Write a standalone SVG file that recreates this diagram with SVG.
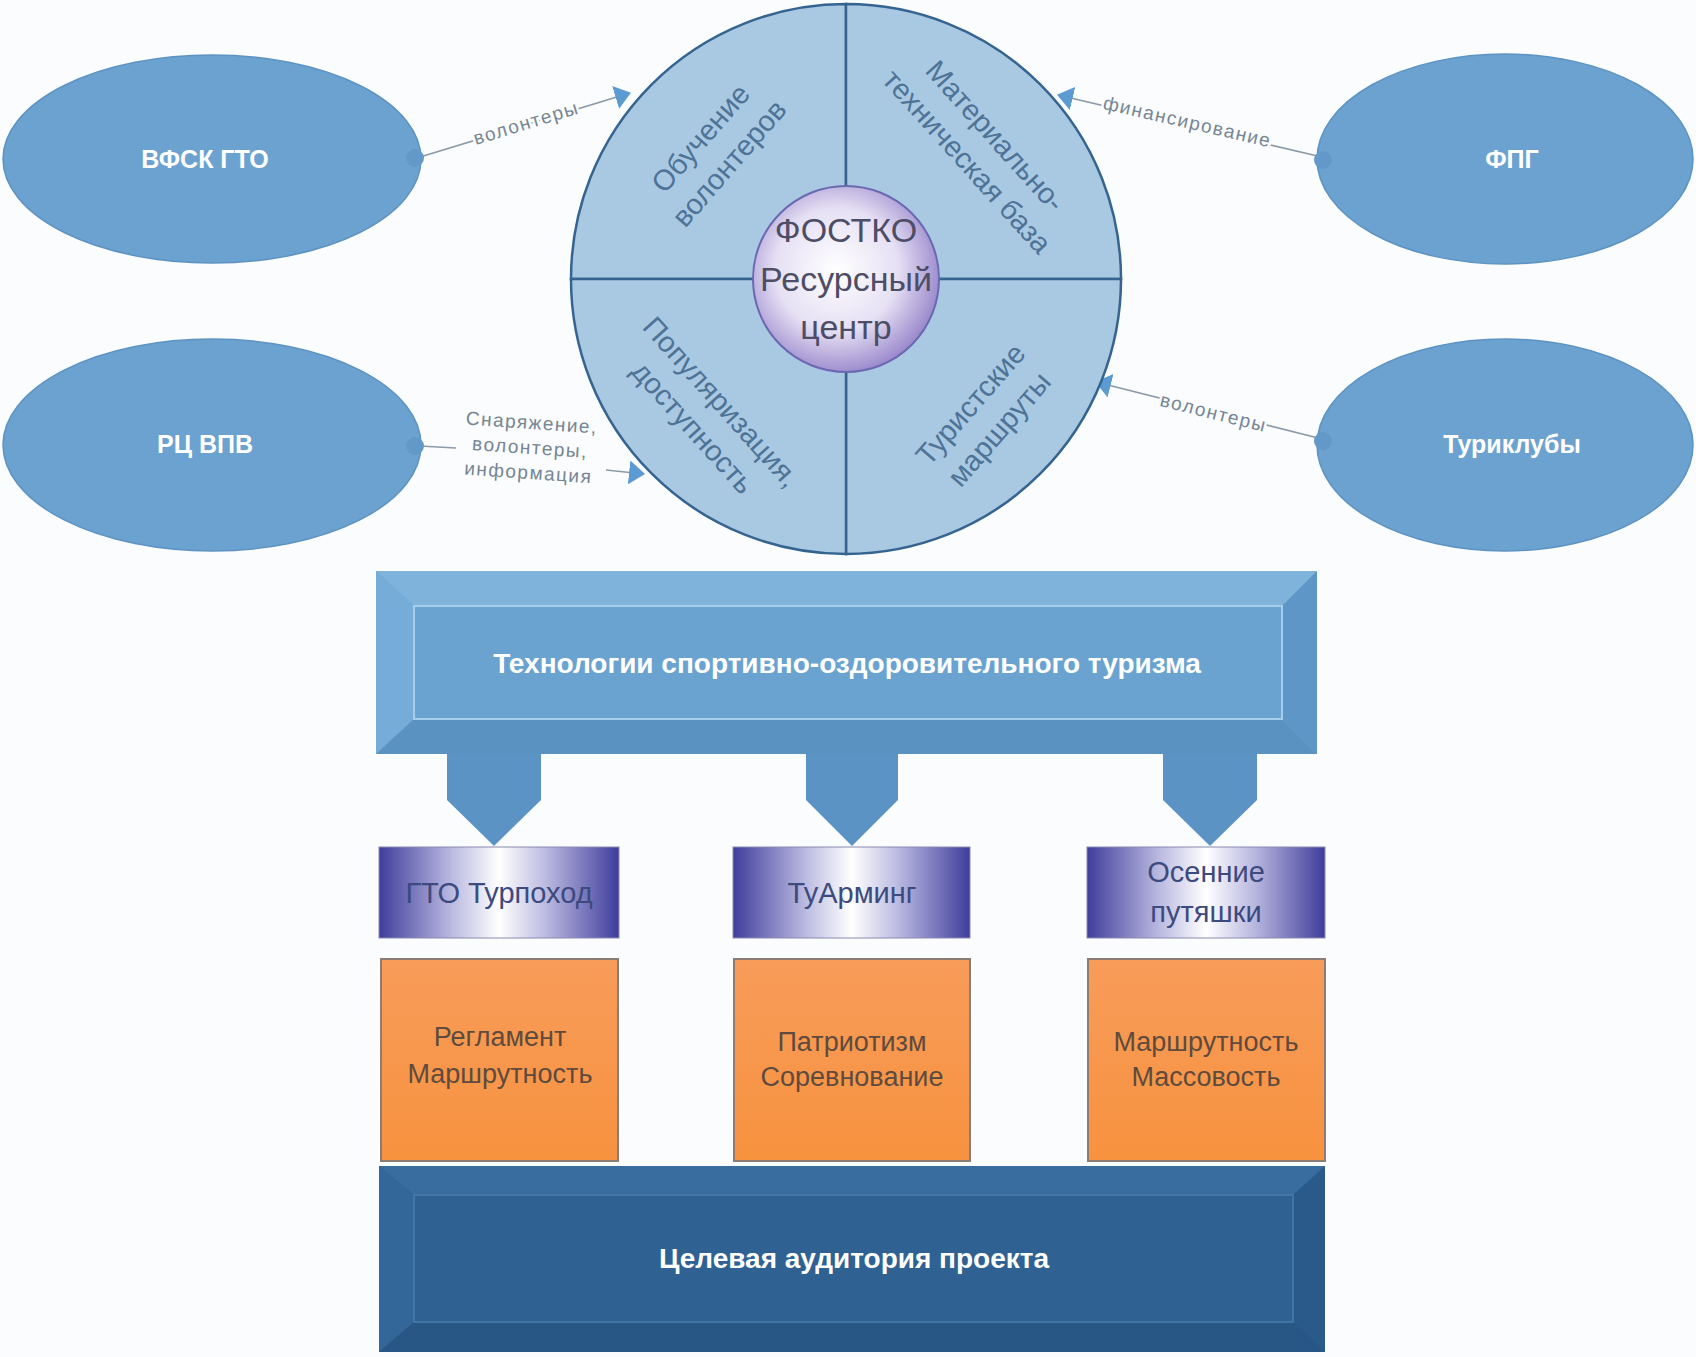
<svg xmlns="http://www.w3.org/2000/svg" width="1696" height="1357" viewBox="0 0 1696 1357">
<defs>
<style>
.ell{fill:#6ca2cf;stroke:#5d93c2;stroke-width:1.5}
.knob{fill:#6399c8}
.ellt{font-family:"Liberation Sans",Arial,sans-serif;font-weight:bold;font-size:25px;fill:#ffffff;text-anchor:middle}
.quad{fill:#a9c9e2;stroke:#34648f;stroke-width:2.5}
.qt{font-family:"Liberation Sans",Arial,sans-serif;font-size:29px;fill:#4e7397;text-anchor:middle}
.ct{font-family:"Liberation Sans",Arial,sans-serif;font-size:34px;fill:#4d4d66;text-anchor:middle}
.con{stroke:#8b9aa8;stroke-width:1.6;fill:none}
.lbl{font-family:"Liberation Sans",Arial,sans-serif;font-size:19px;letter-spacing:1.5px;fill:#768593;text-anchor:middle;stroke:#fafcfd;stroke-width:5;paint-order:stroke}
.big{font-family:"Liberation Sans",Arial,sans-serif;font-weight:bold;font-size:28px;fill:#ffffff;text-anchor:middle}
.chev{fill:#5b94c4}
.gbox{fill:url(#gb);stroke:#8a8ab0;stroke-width:1}
.gt{font-family:"Liberation Sans",Arial,sans-serif;font-size:29px;fill:#3d4a7e;text-anchor:middle}
.obox{fill:url(#og);stroke:#8c7d74;stroke-width:2}
.ot{font-family:"Liberation Sans",Arial,sans-serif;font-size:27px;fill:#5e4b3d;text-anchor:middle}
</style>
<radialGradient id="cg" cx="0.45" cy="0.45" r="0.6">
<stop offset="0" stop-color="#ffffff"/>
<stop offset="0.55" stop-color="#e6e0f4"/>
<stop offset="1" stop-color="#8f7cc6"/>
</radialGradient>
<linearGradient id="gb" x1="0" y1="0" x2="1" y2="0">
<stop offset="0" stop-color="#3f3d9b"/>
<stop offset="0.3" stop-color="#b9b8e0"/>
<stop offset="0.5" stop-color="#ffffff"/>
<stop offset="0.7" stop-color="#b9b8e0"/>
<stop offset="1" stop-color="#3f3d9b"/>
</linearGradient>
<linearGradient id="og" x1="0" y1="0" x2="0" y2="1">
<stop offset="0" stop-color="#f89c5a"/>
<stop offset="1" stop-color="#f7923f"/>
</linearGradient>
<marker id="ah" viewBox="0 0 16 24" refX="15" refY="12" markerWidth="16" markerHeight="24" markerUnits="userSpaceOnUse" orient="auto">
<path d="M0,0 L16,12 L0,24 Z" fill="#5b9bd2"/>
</marker>
</defs>
<rect x="0" y="0" width="1696" height="1357" fill="#fafcfd"/>

<g id="connectors">
<line class="con" x1="420" y1="157" x2="630" y2="93" marker-end="url(#ah)"/>
<text class="lbl" transform="translate(528,129) rotate(-17)">волонтеры</text>
<line class="con" x1="1326" y1="158" x2="1058" y2="95" marker-end="url(#ah)"/>
<text class="lbl" transform="translate(1186,128) rotate(13)">финансирование</text>
<line class="con" x1="1326" y1="440" x2="1096" y2="382" marker-end="url(#ah)"/>
<text class="lbl" transform="translate(1212,419) rotate(14)">волонтеры</text>
<line class="con" x1="420" y1="446" x2="456" y2="448"/>
<line class="con" x1="606" y1="470" x2="644" y2="474" marker-end="url(#ah)"/>
<g transform="translate(530,449) rotate(4)">
<text class="lbl" y="-20">Снаряжение,</text>
<text class="lbl" y="5">волонтеры,</text>
<text class="lbl" y="30">информация</text>
</g>
</g>

<g id="n-vfsk">
<ellipse class="ell" cx="212" cy="159" rx="209" ry="104"/>
<circle class="knob" cx="415" cy="158" r="9"/>
<text class="ellt" x="205" y="168">ВФСК ГТО</text>
</g>
<g id="n-rc">
<ellipse class="ell" cx="212" cy="445" rx="209" ry="106"/>
<circle class="knob" cx="415" cy="446" r="9"/>
<text class="ellt" x="205" y="453">РЦ ВПВ</text>
</g>
<g id="n-fpg">
<ellipse class="ell" cx="1505" cy="159" rx="188" ry="105"/>
<circle class="knob" cx="1323" cy="160" r="9"/>
<text class="ellt" x="1512" y="168">ФПГ</text>
</g>
<g id="n-turclubs">
<ellipse class="ell" cx="1505" cy="445" rx="188" ry="106"/>
<circle class="knob" cx="1323" cy="441" r="9"/>
<text class="ellt" x="1512" y="453">Туриклубы</text>
</g>

<g id="n-circle">
<path class="quad" d="M846,279 L571,279 A275,275 0 0 1 846,4 Z"/>
<path class="quad" d="M846,279 L846,4 A275,275 0 0 1 1121,279 Z"/>
<path class="quad" d="M846,279 L1121,279 A275,275 0 0 1 846,554 Z"/>
<path class="quad" d="M846,279 L846,554 A275,275 0 0 1 571,279 Z"/>
<g transform="translate(714,150) rotate(-49)">
<text class="qt" y="-8">Обучение</text>
<text class="qt" y="30">волонтеров</text>
</g>
<g transform="translate(982,148) rotate(48)">
<text class="qt" y="-8">Материально-</text>
<text class="qt" y="30">техническая база</text>
</g>
<g transform="translate(708,414) rotate(48)">
<text class="qt" y="-8">Популяризация,</text>
<text class="qt" y="30">доступность</text>
</g>
<g transform="translate(984,416) rotate(-49)">
<text class="qt" y="-8">Туристские</text>
<text class="qt" y="30">маршруты</text>
</g>
</g>

<g id="n-center">
<circle cx="846" cy="279" r="93" fill="url(#cg)" stroke="#6b68b2" stroke-width="2"/>
<text class="ct" x="846" y="242">ФОСТКО</text>
<text class="ct" x="846" y="291">Ресурсный</text>
<text class="ct" x="846" y="339">центр</text>
</g>

<g id="n-tech">
<rect x="376" y="571" width="941" height="183" fill="#6aa3d0"/>
<path d="M376,571 L1317,571 L1282,606 L414,606 Z" fill="#7fb3dc"/>
<path d="M376,571 L414,606 L414,719 L376,754 Z" fill="#75acd8"/>
<path d="M1317,571 L1317,754 L1282,719 L1282,606 Z" fill="#5e97c7"/>
<path d="M376,754 L414,719 L1282,719 L1317,754 Z" fill="#5a92c2"/>
<rect x="414" y="606" width="868" height="113" fill="#6aa3d0" stroke="#a6cde9" stroke-width="2"/>
<text class="big" x="847" y="673">Технологии спортивно-оздоровительного туризма</text>
</g>

<g id="chevrons">
<path class="chev" d="M447,754 L541,754 L541,800 L494,846 L447,800 Z"/>
<path class="chev" d="M806,754 L898,754 L898,800 L852,846 L806,800 Z"/>
<path class="chev" d="M1163,754 L1257,754 L1257,800 L1210,846 L1163,800 Z"/>
</g>

<g id="n-gto">
<rect class="gbox" x="379" y="847" width="240" height="91"/>
<text class="gt" x="499" y="903">ГТО Турпоход</text>
</g>
<g id="n-tuarming">
<rect class="gbox" x="733" y="847" width="237" height="91"/>
<text class="gt" x="852" y="903">ТуАрминг</text>
</g>
<g id="n-osen">
<rect class="gbox" x="1087" y="847" width="238" height="91"/>
<text class="gt" x="1206" y="882">Осенние</text>
<text class="gt" x="1206" y="922">путяшки</text>
</g>

<g id="n-o1">
<rect class="obox" x="381" y="959" width="237" height="202"/>
<text class="ot" x="500" y="1046">Регламент</text>
<text class="ot" x="500" y="1083">Маршрутность</text>
</g>
<g id="n-o2">
<rect class="obox" x="734" y="959" width="236" height="202"/>
<text class="ot" x="852" y="1051">Патриотизм</text>
<text class="ot" x="852" y="1086">Соревнование</text>
</g>
<g id="n-o3">
<rect class="obox" x="1088" y="959" width="237" height="202"/>
<text class="ot" x="1206" y="1051">Маршрутность</text>
<text class="ot" x="1206" y="1086">Массовость</text>
</g>

<g id="n-target">
<rect x="379" y="1166" width="946" height="186" fill="#2f6193"/>
<path d="M379,1166 L1325,1166 L1293,1195 L414,1195 Z" fill="#3a6d9f"/>
<path d="M379,1166 L414,1195 L414,1322 L379,1352 Z" fill="#346799"/>
<path d="M1325,1166 L1325,1352 L1293,1322 L1293,1195 Z" fill="#2a5a8a"/>
<path d="M379,1352 L414,1322 L1293,1322 L1325,1352 Z" fill="#285785"/>
<rect x="414" y="1195" width="879" height="127" fill="#2f6193" stroke="#4a7cad" stroke-width="1.5"/>
<text class="big" x="854" y="1268" font-size="29">Целевая аудитория проекта</text>
</g>
</svg>
